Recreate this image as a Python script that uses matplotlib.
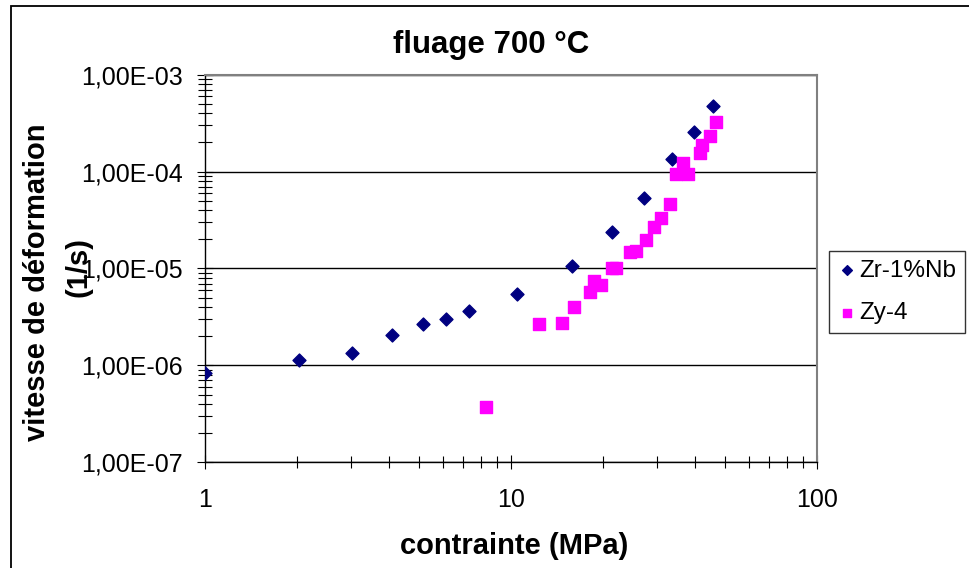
import matplotlib
matplotlib.use('Agg')
import matplotlib.pyplot as plt
import numpy as np
from matplotlib.patches import Rectangle
from matplotlib.ticker import FuncFormatter, LogLocator, NullFormatter

plt.rcParams['font.family'] = ['Liberation Sans', 'DejaVu Sans']

# donnees (contrainte en MPa, vitesse en 1/s)
zr_stress = [1.0, 2.03, 3.04, 4.1, 5.16, 6.16, 7.29, 10.5, 15.9, 21.5, 27.3, 33.7, 39.8, 45.7]
zr_rate = [8.3e-7, 1.15e-6, 1.33e-6, 2.04e-6, 2.69e-6, 2.99e-6, 3.6e-6, 5.5e-6,
           1.05e-5, 2.37e-5, 5.3e-5, 1.34e-4, 2.57e-4, 4.75e-4]

zy_stress = [8.28, 12.4, 14.7, 16.1, 18.1, 18.7, 19.8, 21.4, 22.1, 24.5, 25.6,
             27.6, 29.3, 31.1, 33.1, 34.6, 36.6, 37.9, 41.5, 42.1, 44.7, 46.8]
zy_rate = [3.75e-7, 2.65e-6, 2.76e-6, 4.03e-6, 5.67e-6, 7.5e-6, 6.8e-6, 1.0e-5, 1.0e-5,
           1.47e-5, 1.53e-5, 1.95e-5, 2.7e-5, 3.3e-5, 4.6e-5, 9.4e-5, 1.24e-4, 9.5e-5,
           1.57e-4, 1.9e-4, 2.31e-4, 3.22e-4]

W, H = 969, 568
fig = plt.figure(figsize=(W / 100, H / 100), dpi=100)
ax = fig.add_axes([204.7 / W, 1 - 462.3 / H, (816.7 - 204.7) / W, (462.3 - 74.7) / H])

# cadre exterieur
fig.patches.append(Rectangle((11 / W, -0.1), 1.2, 1.1 - 6 / H, transform=fig.transFigure,
                             fill=False, edgecolor='black', linewidth=1.3))

ax.set_xscale('log')
ax.set_yscale('log')
ax.set_xlim(1, 100)
ax.set_ylim(1e-7, 1e-3)

ax.yaxis.grid(True, which='major', color='black', linewidth=1.0)
ax.set_axisbelow(True)

ax.scatter(zr_stress, zr_rate, marker='D', s=6.6 ** 2, color='#000080', zorder=3, label='Zr-1%Nb')
ax.scatter(zy_stress, zy_rate, marker='s', s=8.5 ** 2, color='#FF00FF', zorder=3, label='Zy-4')

ax.yaxis.set_major_locator(LogLocator(base=10, numticks=10))
ax.yaxis.set_minor_locator(LogLocator(base=10, subs=np.arange(2, 10), numticks=10))
ax.yaxis.set_minor_formatter(NullFormatter())
ax.yaxis.set_major_formatter(FuncFormatter(lambda v, p: f"{v:.2E}".replace('.', ',')))
ax.xaxis.set_major_formatter(FuncFormatter(lambda v, p: f"{v:g}"))
ax.xaxis.set_minor_formatter(NullFormatter())

ax.tick_params(axis='y', which='major', direction='inout', length=12, width=0.8, pad=10, labelsize=18)
ax.tick_params(axis='y', which='minor', direction='inout', length=9.5, width=0.8)
ax.tick_params(axis='x', which='major', direction='inout', length=9.5, width=0.8, pad=14, labelsize=18)
ax.tick_params(axis='x', which='minor', direction='inout', length=8, width=0.8)

for side in ['top', 'right']:
    ax.spines[side].set_color('#808080')
    ax.spines[side].set_linewidth(1.5)
for side in ['left', 'bottom']:
    ax.spines[side].set_color('black')
    ax.spines[side].set_linewidth(1.0)

fig.text(491 / W, 1 - 45 / H, 'fluage 700 °C', ha='center', va='center', fontsize=22.5, fontweight='bold')
fig.text(514 / W, 1 - 546 / H, 'contrainte (MPa)', ha='center', va='center', fontsize=21, fontweight='bold')
fig.text(37 / W, 1 - 282 / H, 'vitesse de déformation', rotation=90, ha='center', va='center',
         fontsize=21, fontweight='bold')
fig.text(79 / W, 1 - 267 / H, '(1/s)', rotation=90, ha='center', va='center', fontsize=21, fontweight='bold')

leg = fig.legend(loc='upper left', bbox_to_anchor=(829 / W, 1 - 251 / H), fontsize=17.5,
                 frameon=True, fancybox=False, edgecolor='black', borderaxespad=0,
                 handletextpad=0.1, handlelength=0.8, borderpad=0.35, labelspacing=0.85,
                 markerscale=0.75)
leg.get_frame().set_linewidth(1.0)

fig.savefig('out.png', dpi=100)
